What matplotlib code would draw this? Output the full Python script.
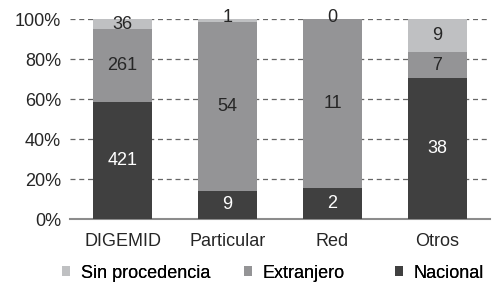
import matplotlib
matplotlib.use("Agg")
import matplotlib.pyplot as plt
import numpy as np

categories = ["DIGEMID", "Particular", "Red", "Otros"]
nacional = [421, 9, 2, 38]
extranjero = [261, 54, 11, 7]
sin_proc = [36, 1, 0, 9]
series_names = ["Nacional", "Extranjero", "Sin procedencia"]
colors = ["#404040", "#949496", "#bfc0c2"]
text_colors = ["white", "#262626", "#262626"]

plt.rcParams['font.family'] = ['Liberation Sans', 'DejaVu Sans']
FS = 13

fig = plt.figure(figsize=(4.94, 2.84), dpi=100)
ax = fig.add_axes([70/494, 1-219/284, 420/494, 200/284])

data = np.array([nacional, extranjero, sin_proc], dtype=float)
totals = data.sum(axis=0)
pct = data / totals * 100
x = np.arange(len(categories))
bottom = np.zeros(len(categories))
bars = []
for i in range(3):
    b = ax.bar(x, pct[i], 0.57, bottom=bottom, color=colors[i], label=series_names[i], zorder=3)
    bars.append(b)
    for j in range(len(categories)):
        yc = bottom[j] + pct[i][j] / 2
        if pct[i][j] < 3:
            yc = 100.9
        ax.text(x[j], yc, str(int(data[i][j])), ha='center', va='center',
                color=text_colors[i], fontsize=FS, zorder=4)
    bottom += pct[i]

ax.set_xlim(-0.5, len(categories) - 0.5)
ax.set_ylim(0, 100)
ax.set_yticks([0, 20, 40, 60, 80, 100])
ax.set_yticklabels(["0%", "20%", "40%", "60%", "80%", "100%"])
ax.set_xticks(x)
ax.set_xticklabels(categories)
ax.tick_params(axis='both', length=0, labelsize=FS, colors='#262626')
ax.tick_params(axis='y', pad=6.5)
ax.tick_params(axis='x', pad=10)
ax.yaxis.grid(True, linestyle=(0, (4, 3)), color='#666666', linewidth=0.9, zorder=0)
for s in ['top', 'right', 'left']:
    ax.spines[s].set_visible(False)
ax.spines['bottom'].set_color('#8c8c8c')
ax.spines['bottom'].set_linewidth(1.5)

legend_items = [(bars[2], "Sin procedencia", 62), (bars[1], "Extranjero", 244), (bars[0], "Nacional", 395)]
for h, lab, xp in legend_items:
    leg = fig.legend([h], [lab], loc='center left', bbox_to_anchor=(xp/494, 1-273/284),
                     frameon=False, fontsize=FS, handlelength=0.45, handleheight=0.45,
                     handletextpad=0.6, borderpad=0, borderaxespad=0)
    fig.add_artist(leg)

fig.savefig("out.png", dpi=100)
